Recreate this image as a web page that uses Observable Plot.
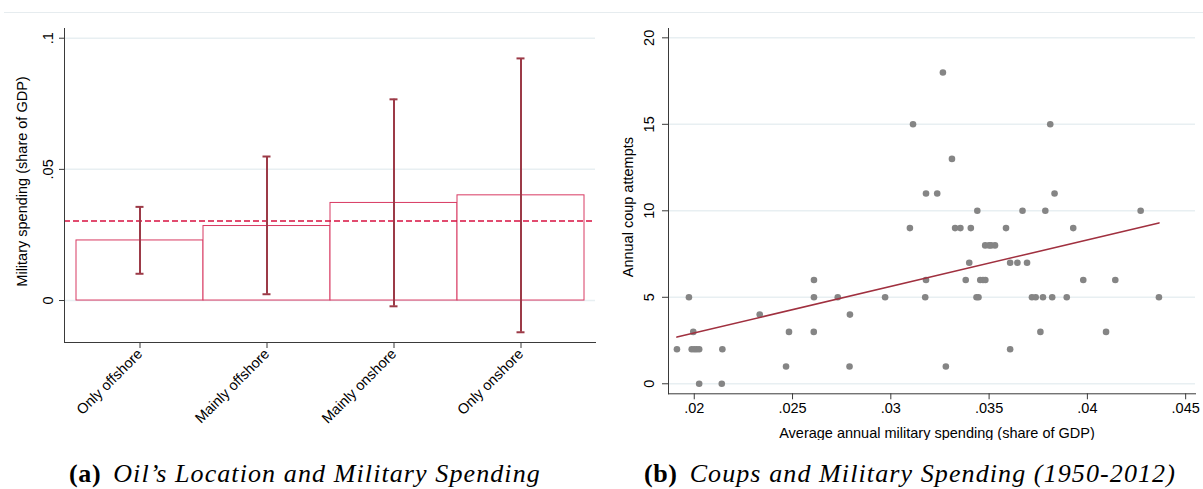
<!DOCTYPE html>
<html>
<head>
<meta charset="utf-8">
<script src="https://cdn.jsdelivr.net/npm/d3@7"></script>
<script src="https://cdn.jsdelivr.net/npm/@observablehq/plot@0.6"></script>
<style>
  body { margin: 0; background: #fff; }
  #fig { position: relative; width: 1203px; height: 489px; overflow: hidden; background: #fff; }
  .topline { position: absolute; left: 4px; top: 12px; width: 1199px; border-top: 1px solid #e6ecef; }
  #left { position: absolute; left: 0; top: 0; }
  #right { position: absolute; left: 600px; top: 0; }
  .cap { position: absolute; top: 459px; transform: translateX(-50%); white-space: nowrap;
         font-family: "Liberation Serif", serif; font-size: 26px; color: #000; }
  .cap b { font-weight: bold; font-style: normal; margin-right: 12px; letter-spacing: 0.6px; }
  .cap i { font-style: italic; letter-spacing: 1.1px; }
</style>
</head>
<body>
<div id="fig">
  <div class="topline"></div>
  <div id="left"></div>
  <div id="right"></div>
  <div class="cap" style="left:305px"><b>(a)</b><i>Oil’s Location and Military Spending</i></div>
  <div class="cap" style="left:910px"><b>(b)</b><i>Coups and Military Spending (1950-2012)</i></div>
</div>
<script>
// Panel (a): military spending by location of oil
const locations = ["Only offshore", "Mainly offshore", "Mainly onshore", "Only onshore"];
const meanSpending = [0.0229, 0.0284, 0.0372, 0.0401];
const ciLow = [0.0102, 0.0024, -0.0022, -0.0121];
const ciHigh = [0.0357, 0.0549, 0.0767, 0.0923];
const overallMean = 0.0303;
const spendTicks = [0, 0.05, 0.1];

// Panel (b): coup attempts against average military spending
const coupSpending = [
  0.02025, 0.0214,
  0.02467, 0.0279, 0.0328,
  0.01912, 0.01987, 0.0200, 0.02012, 0.02025, 0.02143, 0.03607,
  0.01995, 0.02482, 0.02608, 0.03761, 0.04095,
  0.02333, 0.02792,
  0.01973, 0.02609, 0.0273, 0.02971, 0.03175, 0.03436, 0.03446, 0.03718, 0.03737, 0.03774, 0.03821, 0.03895, 0.04364,
  0.02609, 0.03179, 0.03381, 0.03455, 0.03469, 0.03481, 0.03979, 0.04142,
  0.03399, 0.03607, 0.03644, 0.03693,
  0.0348, 0.0350, 0.0351, 0.0353,
  0.03097, 0.03327, 0.03354, 0.03407, 0.03586, 0.03928,
  0.0344, 0.0367, 0.03786, 0.04271,
  0.03179, 0.03236, 0.03833,
  0.03311,
  0.03113, 0.03811,
  0.03265
];
const coupAttempts = [
  0, 0,
  1, 1, 1,
  2, 2, 2, 2, 2, 2, 2,
  3, 3, 3, 3, 3,
  4, 4,
  5, 5, 5, 5, 5, 5, 5, 5, 5, 5, 5, 5, 5,
  6, 6, 6, 6, 6, 6, 6, 6,
  7, 7, 7, 7,
  8, 8, 8, 8,
  9, 9, 9, 9, 9, 9,
  10, 10, 10, 10,
  11, 11, 11,
  13,
  15, 15,
  18
];
const fitSpending = [0.01912, 0.04364];
const fitAttempts = [2.7, 9.3];
const attemptTicks = [0, 5, 10, 15, 20];
const spendingTicks = [0.02, 0.025, 0.03, 0.035, 0.04, 0.045];

// Stata-style numbers: drop the leading zero
const stataFmt = d => d === 0 ? "0" : String(d).replace(/^(-?)0\./, "$1.");

const font = { fontFamily: "'Liberation Sans', Arial, sans-serif", fontSize: "14.5px", color: "#000", background: "transparent" };
const axisColor = "#3a3a3a";
const gridColor = "#e8eff2";
const barColor = "#d83a62";
const ciColor = "#9c3a47";

const groups = locations.map((loc, i) => ({ loc, mean: meanSpending[i], lo: ciLow[i], hi: ciHigh[i] }));

const left = Plot.plot({
  width: 600,
  height: 440,
  marginLeft: 64,
  marginRight: 5,
  marginTop: 28,
  marginBottom: 98,
  style: font,
  x: { type: "band", domain: locations, paddingInner: 0, paddingOuter: 0.075, label: null },
  y: { domain: [-0.016, 0.1037], label: null },
  marks: [
    Plot.ruleY(spendTicks, { stroke: gridColor, strokeWidth: 1.5 }),
    Plot.barY(groups, { x: "loc", y: "mean", fill: "white", stroke: barColor, strokeWidth: 1 }),
    Plot.ruleY([overallMean], { stroke: "#d81040", strokeWidth: 1.6, strokeDasharray: "6,3" }),
    Plot.ruleX(groups, { x: "loc", y1: "lo", y2: "hi", stroke: ciColor, strokeWidth: 2 }),
    Plot.tickY(groups, { x: "loc", y: "lo", stroke: ciColor, strokeWidth: 2, insetLeft: 59.5, insetRight: 59.5 }),
    Plot.tickY(groups, { x: "loc", y: "hi", stroke: ciColor, strokeWidth: 2, insetLeft: 59.5, insetRight: 59.5 }),
    Plot.frame({ anchor: "left", stroke: axisColor }),
    Plot.frame({ anchor: "bottom", stroke: axisColor }),
    Plot.axisY({ ticks: spendTicks, tickSize: 5, tickFormat: () => "", stroke: axisColor, label: null }),
    Plot.text(spendTicks, { y: d => d, text: stataFmt, frameAnchor: "left", dx: -12, rotate: -90,
                            textAnchor: "middle", lineAnchor: "bottom" }),
    Plot.axisX({ tickSize: 6, tickPadding: 3, tickRotate: -45, stroke: axisColor, label: null }),
    Plot.text(["Military spending (share of GDP)"], { frameAnchor: "left", dx: -42, dy: -4, rotate: -90,
                                                      textAnchor: "middle", lineAnchor: "middle" })
  ]
});
document.getElementById("left").append(left);

const right = Plot.plot({
  width: 603,
  height: 440,
  marginLeft: 68,
  marginRight: 8,
  marginTop: 28,
  marginBottom: 46.7,
  style: font,
  x: { domain: [0.01869, 0.0455], label: null },
  y: { domain: [-0.58, 20.54], label: null },
  marks: [
    Plot.ruleY(attemptTicks, { stroke: gridColor, strokeWidth: 1.5 }),
    Plot.dot(coupSpending, { x: d => d, y: (d, i) => coupAttempts[i], r: 3.3, fill: "#858585", stroke: null }),
    Plot.line(fitSpending, { x: d => d, y: (d, i) => fitAttempts[i], stroke: "#a0303f", strokeWidth: 1.6 }),
    Plot.frame({ anchor: "left", stroke: axisColor }),
    Plot.frame({ anchor: "bottom", stroke: axisColor }),
    Plot.axisY({ ticks: attemptTicks, tickSize: 6, tickFormat: () => "", stroke: axisColor, label: null }),
    Plot.text(attemptTicks, { y: d => d, text: d => String(d), frameAnchor: "left", dx: -15, rotate: -90,
                              textAnchor: "middle", lineAnchor: "bottom" }),
    Plot.axisX({ ticks: spendingTicks, tickSize: 6, tickPadding: 3, tickFormat: stataFmt, stroke: axisColor, label: null }),
    Plot.text(["Annual coup attempts"], { frameAnchor: "left", dx: -40, dy: -4, rotate: -90,
                                          textAnchor: "middle", lineAnchor: "middle" }),
    Plot.text(["Average annual military spending (share of GDP)"], { frameAnchor: "bottom", dx: 5, dy: 40,
                                                                      textAnchor: "middle", lineAnchor: "middle" })
  ]
});
document.getElementById("right").append(right);
</script>
</body>
</html>
